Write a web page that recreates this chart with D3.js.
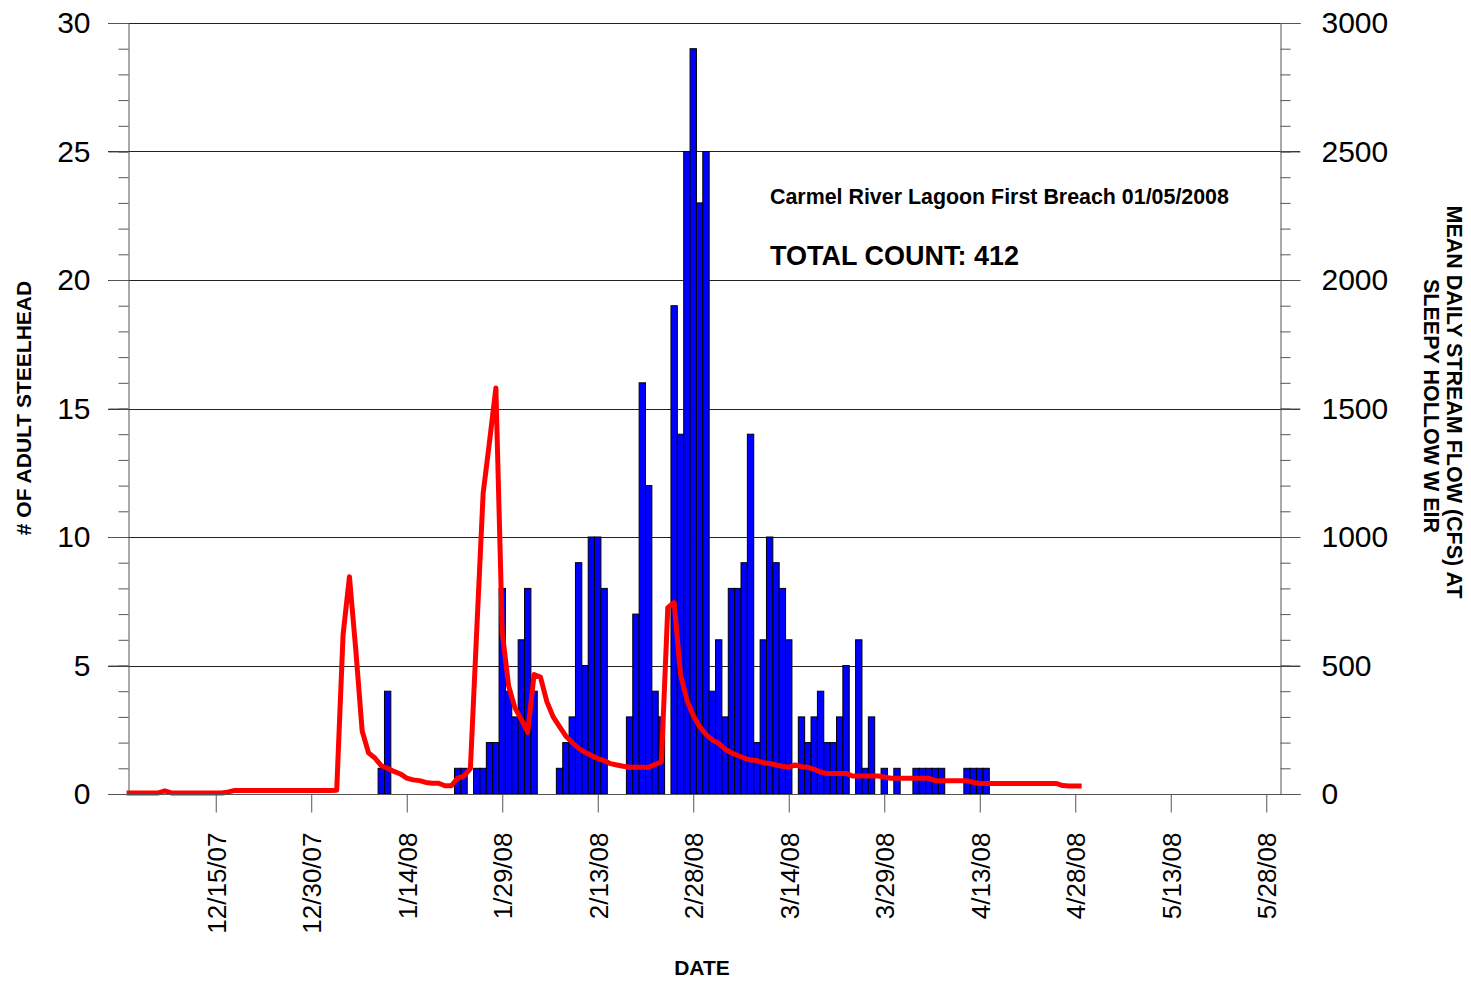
<!DOCTYPE html>
<html>
<head>
<meta charset="utf-8">
<script src="https://cdn.jsdelivr.net/npm/d3@7"></script>
<style>
  body { margin: 0; background: #fff; }
  svg { display: block; font-family: Arial, 'Liberation Sans', sans-serif; }
</style>
</head>
<body>
<div class="container"></div>
<script>
const countDates = [
  '1/10/08', '1/11/08', '1/22/08', '1/23/08', '1/25/08', '1/26/08', '1/27/08', '1/28/08', '1/29/08', '1/30/08', '1/31/08',
  '2/1/08', '2/2/08', '2/3/08', '2/7/08', '2/8/08', '2/9/08', '2/10/08', '2/11/08', '2/12/08', '2/13/08', '2/14/08',
  '2/18/08', '2/19/08', '2/20/08', '2/21/08', '2/22/08', '2/23/08', '2/25/08', '2/26/08', '2/27/08', '2/28/08', '2/29/08',
  '3/1/08', '3/2/08', '3/3/08', '3/4/08', '3/5/08', '3/6/08', '3/7/08', '3/8/08', '3/9/08', '3/10/08', '3/11/08', '3/12/08',
  '3/13/08', '3/14/08', '3/16/08', '3/17/08', '3/18/08', '3/19/08', '3/20/08', '3/21/08', '3/22/08', '3/23/08',
  '3/25/08', '3/26/08', '3/27/08', '3/29/08', '3/31/08',
  '4/3/08', '4/4/08', '4/5/08', '4/6/08', '4/7/08', '4/11/08', '4/12/08', '4/13/08', '4/14/08'
];
const counts = [
  1, 4, 1, 1, 1, 1, 2, 2, 8, 4, 3,
  6, 8, 4, 1, 2, 3, 9, 5, 10, 10, 8,
  3, 7, 16, 12, 4, 3, 19, 14, 25, 29, 23,
  25, 4, 6, 3, 8, 8, 9, 14, 2, 6, 10, 9,
  8, 6, 3, 2, 3, 4, 2, 2, 3, 5,
  6, 1, 3, 1, 1,
  1, 1, 1, 1, 1, 1, 1, 1, 1
];

// daily mean flow (cfs), one value per day from flowStart
const flowStart = '12/1/07';
const flow = [
  4, 4, 4, 4, 4, 4, 12, 4, 4, 4, 4, 4, 4, 4, 4, 4, 8,
  14, 14, 14, 14, 14, 14, 14, 14, 14, 14, 14, 14, 14, 14, 14, 14, 15,
  620, 845, 560, 245, 160, 140, 110, 100, 88, 78, 62, 55, 52, 45, 42, 42, 32, 32, 62, 70,
  100, 640, 1170, 1370, 1580,
  630, 420, 335, 290, 240, 465, 455, 360, 300, 262, 225, 200, 178, 162, 150, 138, 130, 118, 113, 108,
  104, 104, 104, 104, 115, 125,
  725, 745, 465, 366, 305, 262, 232, 210, 197, 175, 160, 150, 140, 132, 130, 122, 119, 113, 108, 104,
  113, 106, 104, 96, 85, 80, 80, 80, 80, 70, 70, 70, 70, 70, 66, 61,
  61, 61, 61, 61, 61, 61,
  52, 52, 52, 52, 52, 52,
  45, 41, 41, 41, 41, 41, 41, 41, 41, 41, 41, 41, 41, 41,
  33, 31, 31, 31
];

const xTickLabels = ['12/15/07', '12/30/07', '1/14/08', '1/29/08', '2/13/08', '2/28/08', '3/14/08', '3/29/08', '4/13/08', '4/28/08', '5/13/08', '5/28/08'];
const xDomain = ['12/1/07', '5/30/08'];
const countTicks = [0, 5, 10, 15, 20, 25, 30];
const flowTicks = [0, 500, 1000, 1500, 2000, 2500, 3000];

const renderChart = () => {
  const width = 1471;
  const height = 981;
  const left = 128;
  const right = 1280;
  const top = 23;
  const bottom = 794;

  const parse = d3.utcParse('%m/%d/%y');
  const fmt = d3.utcFormat('%-m/%-d/%y');

  const svg = d3.select('.container').append('svg').attr('width', width).attr('height', height);

  const xScale = d3.scaleUtc().domain(xDomain.map(parse)).range([126.6, 1279]);
  const yCount = d3.scaleLinear().domain([0, 30]).range([bottom, top]);
  const yFlow = d3.scaleLinear().domain([0, 3000]).range([bottom, top]);
  const dayWidth = xScale(d3.utcDay.offset(parse(flowStart), 1)) - xScale(parse(flowStart));

  // gridlines
  svg
    .append('g')
    .selectAll('line')
    .data(countTicks.slice(1))
    .enter()
    .append('line')
    .attr('x1', left - 20)
    .attr('x2', right + 20)
    .attr('y1', d => Math.round(yCount(d)) + 0.5)
    .attr('y2', d => Math.round(yCount(d)) + 0.5)
    .attr('stroke', '#222')
    .attr('stroke-width', 1);

  // bars
  const bars = countDates.map((d, i) => ({ date: parse(d), value: counts[i] }));
  svg
    .append('g')
    .selectAll('rect')
    .data(bars)
    .enter()
    .append('rect')
    .attr('x', d => xScale(d.date) - dayWidth / 2)
    .attr('y', d => yCount(d.value))
    .attr('width', dayWidth)
    .attr('height', d => bottom - yCount(d.value))
    .attr('fill', '#0000ff')
    .attr('stroke', '#000')
    .attr('stroke-width', 1);

  // flow line
  const start = parse(flowStart);
  const flowPoints = flow.map((v, i) => ({ date: d3.utcDay.offset(start, i), value: v }));
  const line = d3
    .line()
    .x(d => xScale(d.date))
    .y(d => yFlow(d.value));
  svg
    .append('path')
    .datum(flowPoints)
    .attr('d', line)
    .attr('fill', 'none')
    .attr('stroke', '#ff0000')
    .attr('stroke-width', 5)
    .attr('stroke-linejoin', 'round');

  // axes
  const axisColor = '#555';
  const leftMinor = d3.axisLeft(yCount).tickValues(d3.range(0, 31)).tickSize(10).tickFormat('');
  const leftMajor = d3.axisLeft(yCount).tickValues(countTicks).tickSize(20).tickPadding(18);
  const leftMinorGroup = svg.append('g').attr('transform', `translate(${left + 0.5},0)`).call(leftMinor);
  const leftGroup = svg.append('g').attr('transform', `translate(${left + 0.5},0)`).call(leftMajor);

  const rightMinor = d3.axisRight(yFlow).tickValues(d3.range(0, 3001, 100)).tickSize(10).tickFormat('');
  const rightMajor = d3.axisRight(yFlow).tickValues(flowTicks).tickSize(20).tickPadding(21).tickFormat(d3.format('d'));
  const rightMinorGroup = svg.append('g').attr('transform', `translate(${right + 0.5},0)`).call(rightMinor);
  const rightGroup = svg.append('g').attr('transform', `translate(${right + 0.5},0)`).call(rightMajor);

  const xAxis = d3
    .axisBottom(xScale)
    .tickValues(xTickLabels.map(parse))
    .tickSize(18)
    .tickSizeOuter(0)
    .tickFormat(fmt);
  const xGroup = svg.append('g').attr('transform', `translate(0,${bottom + 0.5})`).call(xAxis);
  xGroup.select('.domain').remove();
  xGroup
    .selectAll('text')
    .attr('transform', 'rotate(-90)')
    .attr('text-anchor', 'end')
    .attr('x', -38)
    .attr('y', 0)
    .attr('dy', '0.36em');

  svg
    .append('line')
    .attr('x1', left - 20)
    .attr('x2', right + 20)
    .attr('y1', bottom + 0.5)
    .attr('y2', bottom + 0.5)
    .attr('stroke', axisColor);

  [leftMinorGroup, leftGroup, rightMinorGroup, rightGroup, xGroup].forEach(g => {
    g.selectAll('.domain').attr('stroke', axisColor);
    g.selectAll('.tick line').attr('stroke', axisColor);
    g.selectAll('text').attr('font-size', 30).attr('fill', '#000').attr('font-family', 'Arial, Liberation Sans, sans-serif');
  });
  xGroup.selectAll('text').attr('font-size', 26);
  leftMinorGroup.select('.domain').remove();
  rightMinorGroup.select('.domain').remove();

  // titles
  svg
    .append('text')
    .text('# OF ADULT STEELHEAD')
    .attr('transform', 'translate(31,408) rotate(-90)')
    .attr('text-anchor', 'middle')
    .attr('font-weight', 'bold')
    .attr('font-size', 21);

  svg
    .append('text')
    .text('MEAN DAILY STREAM FLOW (CFS) AT')
    .attr('transform', 'translate(1447,402) rotate(90)')
    .attr('text-anchor', 'middle')
    .attr('font-weight', 'bold')
    .attr('font-size', 21.5);

  svg
    .append('text')
    .text('SLEEPY HOLLOW W EIR')
    .attr('transform', 'translate(1424,406) rotate(90)')
    .attr('text-anchor', 'middle')
    .attr('font-weight', 'bold')
    .attr('font-size', 21.5);

  svg
    .append('text')
    .text('DATE')
    .attr('x', 702)
    .attr('y', 975)
    .attr('text-anchor', 'middle')
    .attr('font-weight', 'bold')
    .attr('font-size', 21);

  svg
    .append('text')
    .text('Carmel River Lagoon First Breach 01/05/2008')
    .attr('x', 770)
    .attr('y', 204)
    .attr('font-weight', 'bold')
    .attr('font-size', 21.4);

  svg
    .append('text')
    .text('TOTAL COUNT: 412')
    .attr('x', 770)
    .attr('y', 265)
    .attr('font-weight', 'bold')
    .attr('font-size', 27);
};

renderChart();
</script>
</body>
</html>
